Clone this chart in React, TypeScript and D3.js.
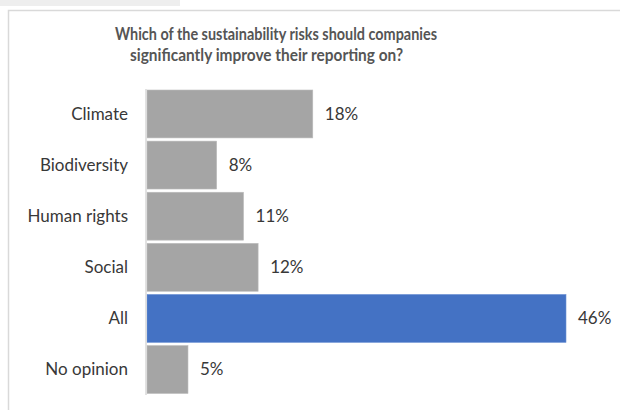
import React from "react";
import * as d3 from "d3";

const categories = ["Climate", "Biodiversity", "Human rights", "Social", "All", "No opinion"];
const values = [18.2, 7.65, 10.6, 12.2, 46, 4.5];
const valueLabels = ["18%", "8%", "11%", "12%", "46%", "5%"];
const highlight = ["All"];
const titleLines = [
  "Which of the sustainability risks should companies",
  "significantly improve their reporting on?",
];

export default function App() {
  const W = 620;
  const H = 410;
  const y = d3.scaleBand<string>().domain(categories).range([90, 393.5]).paddingInner(0.0625).paddingOuter(0);
  const x = d3.scaleLinear().domain([0, 46]).range([147, 566]);
  const font = "Lato, 'Open Sans', sans-serif";
  const titleX = [115, 130];
  const titleLen = [322, 273];
  return (
    <svg width={W} height={H} style={{ position: "absolute", left: 0, top: 0, background: "#fff" }}>
      <rect x={0} y={0} width={180} height={6} fill="#eeeeee" />
      <rect x={8.5} y={10.5} width={W + 10} height={H + 10} fill="#fff" stroke="#d9d9d9" strokeWidth={1.5} />
      {titleLines.map((t, i) => (
        <text
          key={i}
          x={titleX[i]}
          y={40 + i * 21}
          textAnchor="start"
          fontFamily={font}
          fontWeight={700}
          fontSize={16.5}
          fill="#555555"
          textLength={titleLen[i]}
          lengthAdjust="spacingAndGlyphs"
        >
          {t}
        </text>
      ))}
      {categories.map((c, i) => {
        const yy = y(c)!;
        const bw = y.bandwidth();
        const isH = highlight.includes(c);
        return (
          <g key={c}>
            <rect
              x={x(0)}
              y={yy}
              width={x(values[i]) - x(0)}
              height={bw}
              fill={isH ? "#4472c4" : "#a5a5a5"}
              stroke={isH ? "#6d91d4" : "#bdbdbd"}
              strokeWidth={0.6}
            />
            <text x={128} y={yy + bw / 2} dy="0.35em" textAnchor="end" fontFamily={font} fontSize={17} fill="#383838">
              {c}
            </text>
            <text
              x={x(values[i]) + 12}
              y={yy + bw / 2}
              dy="0.35em"
              textAnchor="start"
              fontFamily={font}
              fontSize={17}
              fill="#383838"
            >
              {valueLabels[i]}
            </text>
          </g>
        );
      })}
      <line x1={146} x2={146} y1={89} y2={395} stroke="#d9d9d9" strokeWidth={1.5} />
    </svg>
  );
}
